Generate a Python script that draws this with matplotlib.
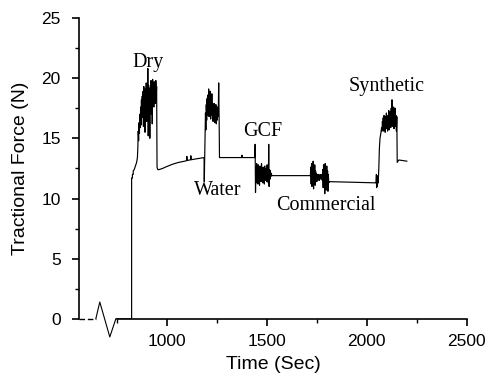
import numpy as np
import matplotlib
matplotlib.use('Agg')
import matplotlib.pyplot as plt
from matplotlib.ticker import MultipleLocator, FixedLocator

plt.rcParams['font.family'] = 'Liberation Sans'

# ---- data ----
lead_t = [750, 825, 825, 829, 829, 833, 833, 838, 842, 846, 850, 854]
lead_f = [0, 0, 11.7, 11.7, 12.0, 12.0, 12.3, 12.4, 12.6, 12.8, 13.0, 13.4]

dry_t = list(range(856, 952, 2)) + [952, 956, 962]
dry_f = [14.2, 15.6, 14.8, 16.3, 15.4, 17.0, 15.9, 17.6, 16.1, 18.2, 16.7, 18.5,
         17.2, 18.9, 16.0, 19.3, 17.4, 18.8, 15.5, 19.1, 17.8, 19.6, 16.4, 19.0,
         17.1, 20.8, 15.2, 19.4, 16.8, 18.6, 15.0, 19.2, 17.5, 19.8, 17.0, 19.5,
         16.2, 19.9, 18.1, 19.4, 17.6, 19.7, 18.3, 19.5, 17.9, 19.8, 18.6, 19.3,
         12.6, 12.4, 12.4]

relax_t = [980, 1000, 1030, 1060, 1090, 1100, 1101, 1102, 1120, 1121, 1122, 1150, 1187]
relax_f = [12.5, 12.65, 12.85, 13.0, 13.1, 13.15, 13.5, 13.15, 13.22, 13.55, 13.22, 13.3, 13.4]

water_t = list(range(1188, 1266, 2))
water_f = [11.4, 13.4, 15.6, 17.1, 15.7, 17.8, 16.5, 18.3, 16.9, 18.6, 17.2, 19.1,
           16.8, 18.4, 17.5, 18.9, 16.6, 18.2, 17.4, 18.7, 16.9, 17.9, 16.4, 17.6,
           16.8, 17.9, 16.3, 17.4, 16.6, 17.8, 16.2, 17.1, 16.5, 17.6, 16.8, 17.2,
           19.6, 17.0, 13.4]

flat1_t = [1375, 1376, 1377, 1441, 1442, 1444]
flat1_f = [13.4, 13.6, 13.4, 13.4, 14.5, 10.5]

gcf_t = list(range(1446, 1524, 2)) + [1526, 1718]
gcf_f = [12.6, 11.3, 12.9, 11.6, 12.4, 11.2, 12.8, 11.5, 12.3, 11.1, 12.7, 11.8,
         12.5, 11.4, 12.9, 11.7, 12.2, 11.3, 12.6, 11.6, 12.4, 11.2, 12.7, 11.5,
         12.3, 11.6, 12.5, 11.4, 12.8, 11.7, 12.2, 11.3, 14.5, 11.0, 12.4, 11.6,
         12.3, 11.8, 12.1, 11.9, 11.9]

comm_t = list(range(1720, 1814, 2)) + [2046]
comm_f = [12.6, 11.2, 12.9, 11.0, 12.4, 11.5, 13.1, 10.8, 12.6, 11.3, 12.8, 11.1,
          12.3, 11.6, 12.1, 11.4, 12.0, 11.5, 11.9, 11.6, 12.0, 11.5, 11.9, 11.6,
          12.0, 11.7, 11.9, 11.6, 12.0, 11.5, 12.4, 10.9, 12.8, 11.2, 12.6, 10.4,
          12.9, 11.0, 12.5, 10.7, 12.7, 11.1, 12.3, 10.6, 12.0, 11.3, 11.4, 11.3]

synth_t = [2048, 2049, 2051, 2053, 2055, 2057, 2060, 2063, 2066, 2070, 2074] + \
          list(range(2076, 2152, 2)) + [2152, 2160, 2200]
synth_f = [12.0, 10.9, 11.9, 11.0, 11.8, 11.3, 12.5, 14.2, 15.0, 15.4, 15.9,
           15.6, 16.4, 15.8, 16.7, 15.6, 16.9, 15.9, 16.5, 15.5, 16.8, 16.0, 17.1,
           15.8, 16.6, 15.6, 16.9, 16.1, 17.3, 15.7, 16.8, 16.2, 17.2, 15.9, 17.5,
           16.3, 18.2, 16.0, 17.4, 16.4, 17.6, 15.8, 17.1, 16.2, 17.5, 16.0, 16.9,
           15.6, 16.8, 13.0, 13.2, 13.1]

# axis break marker before the trace starts
break_t = [646, 666, 716, 746]
break_f = [0, 1.4, -1.5, 0]

labels = ['Dry', 'Water', 'GCF', 'Commercial', 'Synthetic']
label_t = [907, 1257, 1482, 1797, 2097]
label_f = [21.3, 10.7, 15.6, 9.4, 19.3]

t = np.concatenate([lead_t, dry_t, relax_t, water_t, flat1_t, gcf_t, comm_t, synth_t])
f = np.concatenate([lead_f, dry_f, relax_f, water_f, flat1_f, gcf_f, comm_f, synth_f])

fig = plt.figure(figsize=(4.93, 3.81), dpi=100)
ax = fig.add_axes([0.160, 0.163, 0.787, 0.790])

ax.plot(t, f, '-', color='black', lw=0.85)
ax.plot([563, 646], [0, 0], color='black', lw=1.0, ls=(0, (4, 2)), clip_on=False)
ax.plot(break_t, break_f, '-', color='black', lw=0.8, clip_on=False)

for s, xt, yf in zip(labels, label_t, label_f):
    ax.text(xt, yf, s, ha='center', va='center', fontsize=14.5,
            family='Liberation Serif')

ax.set_xlim(561.5, 2500)
ax.set_ylim(0, 25)
ax.spines['top'].set_visible(False)
ax.spines['right'].set_visible(False)
ax.spines['bottom'].set_bounds(750, 2500)
for sp in ('left', 'bottom'):
    ax.spines[sp].set_linewidth(1.2)

ax.xaxis.set_major_locator(FixedLocator([1000, 1500, 2000, 2500]))
ax.xaxis.set_minor_locator(FixedLocator([750, 1250, 1750, 2250]))
ax.yaxis.set_major_locator(MultipleLocator(5))
ax.yaxis.set_minor_locator(MultipleLocator(2.5))
ax.tick_params(which='major', direction='out', length=5, width=1.2, labelsize=12.5)
ax.tick_params(axis='y', which='major', pad=8)
ax.tick_params(axis='x', which='major', pad=6)
ax.tick_params(which='minor', direction='out', length=3, width=1.0)

ax.set_xlabel('Time (Sec)', fontsize=14, labelpad=5)
ax.set_ylabel('Tractional Force (N)', fontsize=14, labelpad=9)

fig.savefig('out.png', dpi=100, facecolor='white')
